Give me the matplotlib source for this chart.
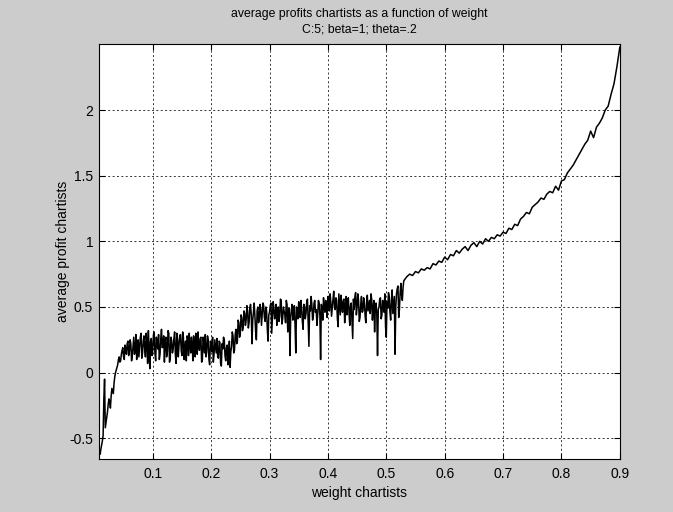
import numpy as np
import matplotlib
matplotlib.use("Agg")
from matplotlib import pyplot as plt

# weight grid: fine steps where the profits are noisy, coarser afterwards
w_noisy = np.round(np.arange(0.01, 0.53 + 1e-9, 0.0025), 5)
w_mid = np.round(w_noisy[:-1] + 0.00125, 5)
w_smooth = np.round(np.arange(0.535, 0.9 + 1e-9, 0.005), 5)

profit_noisy = [
    -0.62, -0.55, -0.48, -0.05, -0.38, -0.30, -0.20, -0.27, -0.12, -0.16,
    -0.03, 0.02, 0.06, 0.12, 0.09, 0.17, 0.12, 0.21, 0.14, 0.24,
    0.16, 0.22, 0.13, 0.27, 0.18, 0.10, 0.25, 0.19, 0.30, 0.15,
    0.28, 0.12, 0.23, 0.32, 0.03, 0.26, 0.17, 0.31, 0.09, 0.22,
    0.29, 0.14, 0.33, 0.20, 0.08, 0.27, 0.16, 0.30, 0.11, 0.24,
    0.18, 0.31, 0.07, 0.25, 0.21, 0.29, 0.13, 0.27, 0.19, 0.09,
    0.26, 0.30, 0.15, 0.22, 0.28, 0.12, 0.24, 0.31, 0.17, 0.27,
    0.10, 0.23, 0.29, 0.16, 0.25, 0.06, 0.21, 0.27, 0.14, 0.20,
    0.26, 0.11, 0.23, 0.05, 0.18, 0.25, 0.09, 0.21, 0.14, 0.04,
    0.20, 0.28, 0.17, 0.33, 0.24, 0.38, 0.30, 0.42, 0.35, 0.45,
    0.40, 0.47, 0.38, 0.52, 0.22, 0.46, 0.43, 0.25, 0.50, 0.41,
    0.48, 0.44, 0.51, 0.39, 0.47, 0.24, 0.46, 0.53, 0.42, 0.49,
    0.45, 0.36, 0.50, 0.43, 0.55, 0.41, 0.47, 0.38, 0.52, 0.44,
    0.13, 0.48, 0.40, 0.51, 0.15, 0.46, 0.54, 0.42, 0.49, 0.33,
    0.50, 0.45, 0.56, 0.20, 0.47, 0.52, 0.43, 0.55, 0.48, 0.44,
    0.53, 0.10, 0.49, 0.57, 0.46, 0.51, 0.58, 0.47, 0.54, 0.50,
    0.62, 0.48, 0.55, 0.35, 0.52, 0.59, 0.46, 0.56, 0.51, 0.44,
    0.57, 0.36, 0.53, 0.26, 0.48, 0.61, 0.50, 0.55, 0.42, 0.58,
    0.47, 0.54, 0.38, 0.59, 0.51, 0.45, 0.56, 0.49, 0.31, 0.53,
    0.13, 0.50, 0.57, 0.44, 0.52, 0.60, 0.27, 0.49, 0.58, 0.40,
    0.63, 0.52, 0.14, 0.60, 0.66, 0.48, 0.68, 0.55, 0.70,
]

# samples halfway between the ones above
profit_mid = [
    -0.58, -0.52, -0.20, -0.42, -0.34, -0.24, -0.22, -0.18, -0.14, -0.08,
    0.00, 0.04, 0.10, 0.08, 0.14, 0.19, 0.10, 0.18, 0.22, 0.13,
    0.25, 0.09, 0.20, 0.14, 0.29, 0.21, 0.12, 0.27, 0.11, 0.24,
    0.18, 0.30, 0.07, 0.19, 0.24, 0.13, 0.29, 0.15, 0.27, 0.18,
    0.10, 0.26, 0.19, 0.28, 0.24, 0.12, 0.32, 0.08, 0.27, 0.15,
    0.26, 0.14, 0.30, 0.12, 0.28, 0.17, 0.31, 0.10, 0.24, 0.28,
    0.13, 0.20, 0.27, 0.09, 0.18, 0.30, 0.14, 0.21, 0.26, 0.08,
    0.27, 0.15, 0.12, 0.28, 0.10, 0.24, 0.16, 0.08, 0.25, 0.15,
    0.12, 0.24, 0.07, 0.22, 0.27, 0.13, 0.19, 0.06, 0.24, 0.16,
    0.31, 0.15, 0.29, 0.22, 0.40, 0.27, 0.44, 0.32, 0.47, 0.36,
    0.51, 0.34, 0.49, 0.44, 0.40, 0.53, 0.31, 0.47, 0.38, 0.52,
    0.36, 0.53, 0.42, 0.50, 0.33, 0.44, 0.51, 0.30, 0.54, 0.41,
    0.52, 0.47, 0.39, 0.56, 0.37, 0.50, 0.44, 0.55, 0.31, 0.49,
    0.42, 0.52, 0.46, 0.36, 0.50, 0.41, 0.47, 0.55, 0.39, 0.52,
    0.41, 0.54, 0.38, 0.51, 0.58, 0.40, 0.53, 0.46, 0.36, 0.55,
    0.44, 0.52, 0.40, 0.49, 0.55, 0.42, 0.50, 0.60, 0.43, 0.56,
    0.50, 0.57, 0.41, 0.60, 0.44, 0.51, 0.55, 0.38, 0.58, 0.53,
    0.45, 0.51, 0.40, 0.56, 0.58, 0.44, 0.60, 0.39, 0.52, 0.46,
    0.57, 0.43, 0.52, 0.47, 0.55, 0.60, 0.40, 0.55, 0.50, 0.45,
    0.48, 0.56, 0.41, 0.55, 0.46, 0.35, 0.54, 0.61, 0.46, 0.55,
    0.45, 0.58, 0.50, 0.64, 0.42, 0.61, 0.59, 0.65,
]

profit_smooth = [
    0.73, 0.75, 0.74, 0.77, 0.76, 0.79, 0.78, 0.80, 0.79, 0.83,
    0.82, 0.85, 0.84, 0.88, 0.86, 0.90, 0.89, 0.93, 0.91, 0.94,
    0.96, 0.93, 0.97, 0.99, 0.96, 1.00, 0.98, 1.02, 1.00, 1.03,
    1.02, 1.05, 1.04, 1.07, 1.06, 1.10, 1.09, 1.13, 1.12, 1.17,
    1.19, 1.22, 1.21, 1.26, 1.28, 1.30, 1.33, 1.32, 1.36, 1.38,
    1.37, 1.42, 1.39, 1.46, 1.47, 1.52, 1.55, 1.58, 1.62, 1.66,
    1.70, 1.74, 1.77, 1.84, 1.79, 1.87, 1.90, 1.94, 2.00, 2.03,
    2.12, 2.20, 2.33, 2.48,
]

xticks = [0.1, 0.2, 0.3, 0.4, 0.5, 0.6, 0.7, 0.8, 0.9]
yticks = [-0.5, 0, 0.5, 1, 1.5, 2]

weight = np.concatenate([w_noisy, w_mid, w_smooth])
profit = np.concatenate([profit_noisy, profit_mid, profit_smooth])
order = np.argsort(weight)
weight, profit = weight[order], profit[order]

plt.rcParams['font.family'] = ['Liberation Sans', 'DejaVu Sans']

fig = plt.figure(figsize=(6.73, 5.12), dpi=100, facecolor='#cccccc')
ax = fig.add_axes([0.1467, 0.104, 0.7743, 0.810])
ax.plot(weight, profit, color='black', linewidth=1.1)

ax.set_xlim(0.0075, 0.9)
ax.set_ylim(-0.656, 2.503)
ax.set_xticks(xticks)
ax.set_xticklabels([str(t) for t in xticks])
ax.set_yticks(yticks)
ax.set_yticklabels(['-0.5', '0', '0.5', '1', '1.5', '2'])
ax.grid(True, color='black', linestyle=(0, (2, 2.5)), linewidth=0.7, alpha=0.8)
ax.tick_params(direction='in', length=4, top=True, right=True, labelsize=10)
ax.tick_params(axis='y', pad=4)
ax.tick_params(axis='x', pad=6)
for s in ax.spines.values():
    s.set_linewidth(0.8)

ax.set_title("average profits chartists as a function of weight\nC:5; beta=1; theta=.2",
             fontsize=8.8, pad=8, linespacing=1.4)
ax.set_xlabel("weight chartists", fontsize=10)
ax.set_ylabel("average profit chartists", fontsize=10)
ax.xaxis.set_label_coords(0.5, -0.066)
ax.yaxis.set_label_coords(-0.055, 0.5)

fig.savefig("out.png", dpi=100, facecolor=fig.get_facecolor())
